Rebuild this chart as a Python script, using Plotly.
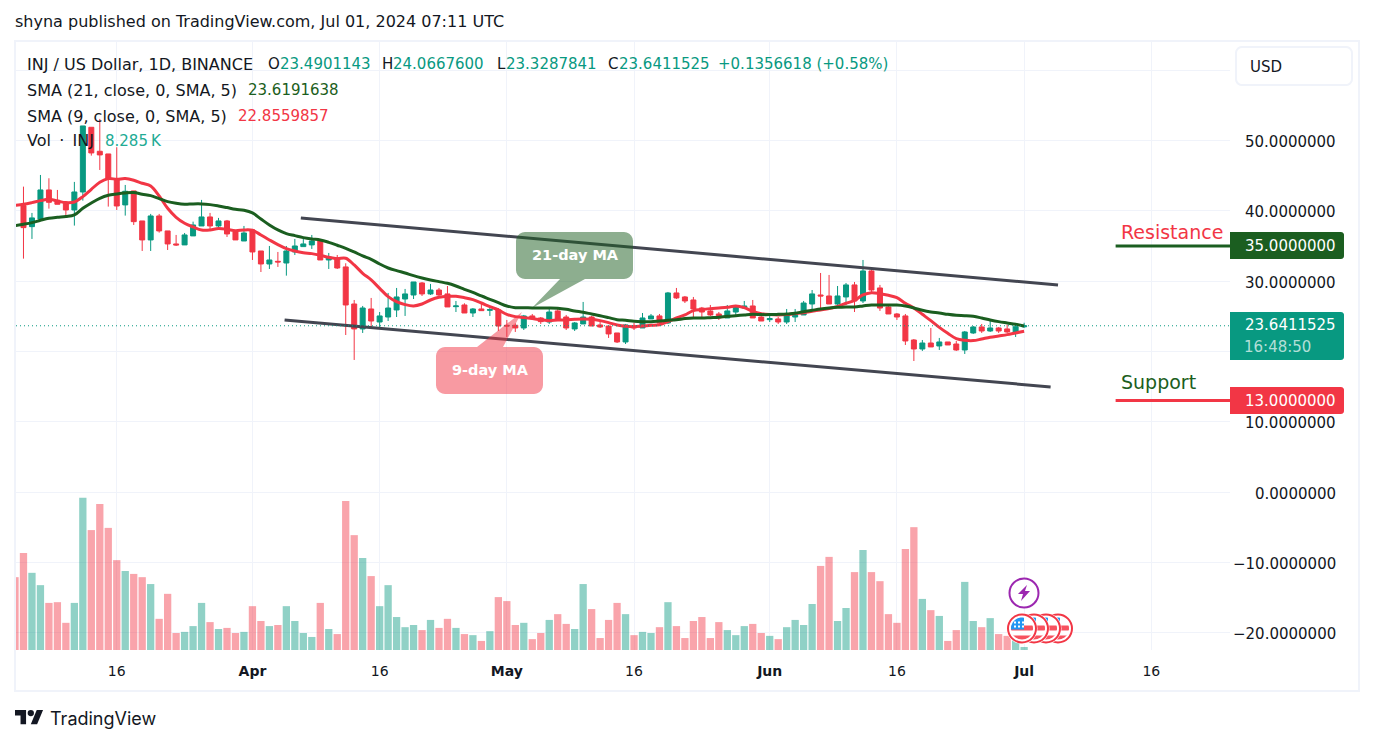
import math

import pandas as pd
import plotly.graph_objects as go

# daily data (Mar 4 candle is outside the visible area)
dates = pd.date_range("2024-03-04", "2024-07-01", freq="D")

opens = [None, 40.73, 37.74, 38.83, 42.96, 41.49, 41.06, 40.11, 42.67, 51.87, 48.46, 48.08, 44.48, 40.83, 42.82, 38.55, 35.85, 39.26, 37.13, 35.28, 35.14, 36.42, 37.84, 39.12, 37.84, 38.55, 36.98, 35.70,
         37.27, 34.28, 32.43, 32.81, 32.57, 34.14, 34.90, 35.14, 35.70, 33.00, 33.29, 32.01, 26.74, 23.19, 26.03, 24.18, 24.89, 25.89, 27.45, 28.02, 29.73, 28.17, 28.73, 28.17, 26.36, 26.60, 25.46, 26.03, 25.84, 25.89,
         23.71, 23.71, 23.33, 25.04, 24.75, 24.18, 25.75, 24.89, 23.19, 23.90, 24.89, 23.76, 23.61, 22.62, 21.34, 23.61, 23.33, 24.61, 25.04, 24.04, 28.31, 27.74, 27.31, 26.17, 25.75, 25.32, 24.75, 25.60, 26.17, 26.46, 24.89,
         24.51, 24.61, 24.18, 24.89, 25.18, 26.74, 28.02, 27.88, 26.74, 27.74, 29.45, 27.17, 31.44, 29.02, 26.32, 25.32, 25.04, 21.62, 20.34, 21.19, 20.77, 21.34, 21.05, 20.20, 22.62, 23.47, 22.90, 23.33, 23.19, 22.76,
         23.49]
highs = [None, 43.43, 39.69, 45.09, 44.62, 42.96, 41.06, 44.10, 52.06, 51.87, 53.06, 48.08, 49.03, 43.67, 42.82, 38.55, 39.55, 39.55, 37.13, 36.56, 36.84, 38.45, 41.54, 39.69, 38.98, 38.69, 36.98, 37.84,
         37.41, 34.28, 34.99, 34.14, 34.99, 35.99, 35.99, 36.56, 35.99, 34.00, 33.71, 32.53, 27.31, 26.46, 27.60, 25.60, 28.31, 29.02, 28.88, 29.87, 29.87, 29.59, 29.02, 29.30, 27.17, 26.84, 26.17, 26.84, 26.17, 26.17,
         24.47, 23.99, 25.18, 25.32, 24.89, 26.32, 26.17, 25.18, 24.18, 27.03, 25.04, 24.18, 23.61, 22.62, 23.90, 24.04, 25.46, 25.32, 25.32, 28.45, 29.02, 27.88, 27.74, 26.32, 26.60, 25.60, 26.60, 26.60, 27.17, 27.31, 25.32,
         25.32, 24.89, 26.03, 26.03, 27.17, 28.73, 31.15, 30.87, 29.30, 29.73, 29.87, 33.00, 31.86, 29.45, 26.74, 25.46, 25.32, 21.76, 21.62, 23.33, 21.91, 21.34, 21.48, 22.90, 23.61, 23.90, 24.47, 23.47, 23.76, 23.76,
         24.07]
lows = [None, 33.19, 35.99, 38.83, 40.30, 40.92, 38.98, 37.89, 41.44, 47.84, 45.80, 40.59, 40.11, 39.31, 37.98, 34.28, 34.28, 36.89, 34.42, 34.99, 35.14, 36.42, 37.84, 37.41, 37.27, 36.27, 35.85, 35.70,
        33.00, 31.29, 31.72, 32.01, 30.77, 33.71, 34.90, 34.57, 33.00, 31.72, 31.72, 22.33, 18.78, 22.62, 23.47, 23.33, 24.32, 24.89, 25.04, 27.45, 27.88, 28.02, 27.88, 26.32, 25.60, 25.46, 24.89, 25.75, 25.04, 22.90,
        22.05, 22.76, 23.04, 24.47, 23.90, 23.90, 24.47, 23.04, 22.90, 23.90, 23.61, 23.33, 21.91, 21.19, 21.05, 23.04, 23.33, 24.61, 23.90, 23.90, 27.45, 26.88, 24.89, 24.61, 25.04, 24.47, 24.75, 24.89, 26.03, 24.75, 24.32,
        24.18, 23.90, 23.90, 24.18, 25.18, 26.03, 25.89, 26.74, 26.60, 26.60, 25.60, 26.88, 28.45, 25.75, 25.32, 24.47, 20.91, 18.63, 20.06, 20.63, 20.20, 20.91, 20.06, 19.63, 22.48, 22.62, 22.76, 22.62, 22.62, 22.05,
        23.33]
closes = [None, 37.60, 38.98, 42.96, 41.20, 40.92, 40.11, 42.67, 52.06, 48.22, 47.94, 44.52, 40.68, 42.77, 38.45, 35.85, 39.26, 37.13, 35.28, 35.14, 36.56, 37.98, 39.12, 37.84, 38.55, 36.70, 35.85, 36.84,
          34.14, 32.43, 33.00, 32.72, 34.28, 34.99, 35.28, 35.70, 33.00, 33.43, 31.86, 26.60, 23.19, 26.17, 24.32, 25.04, 26.17, 27.74, 28.17, 29.87, 28.17, 28.73, 28.02, 26.32, 26.46, 25.46, 26.03, 25.79, 25.94, 23.61,
          23.61, 23.33, 25.04, 24.66, 24.23, 25.60, 24.61, 23.33, 24.04, 24.89, 23.61, 23.47, 22.48, 21.34, 23.76, 23.33, 24.75, 25.04, 24.04, 28.31, 27.60, 27.17, 26.03, 25.60, 25.18, 24.75, 25.75, 26.32, 26.46, 24.75, 24.32,
          24.66, 24.18, 25.04, 25.32, 26.88, 28.17, 27.88, 26.74, 27.88, 29.45, 27.17, 31.44, 28.73, 26.17, 25.32, 24.89, 21.48, 20.34, 21.19, 20.63, 21.34, 20.91, 20.20, 22.76, 23.47, 22.90, 23.33, 22.90, 22.76, 23.51,
          23.64]

sma_21 = [37.89, 38.08, 38.31, 38.64, 38.93, 39.07, 39.17, 39.40, 40.35, 41.11, 41.77, 42.20, 42.39, 42.53, 42.58, 42.34, 42.15, 41.73, 41.30, 41.06, 40.92, 40.97, 40.97, 40.87, 40.68, 40.45, 40.21, 40.07,
          39.69, 38.83, 37.98, 37.27, 36.75, 36.46, 36.18, 35.99, 35.85, 35.51, 35.09, 34.66, 34.14, 33.57, 33.10, 32.43, 31.86, 31.48, 31.15, 30.77, 30.44, 30.16, 29.92, 29.68, 29.30, 28.83, 28.40, 27.88, 27.41, 26.93,
          26.46, 26.22, 26.22, 26.17, 26.17, 26.17, 26.13, 25.98, 25.75, 25.56, 25.32, 25.08, 24.80, 24.51, 24.42, 24.28, 24.23, 24.23, 24.32, 24.42, 24.51, 24.66, 24.75, 24.75, 24.80, 24.85, 24.99, 25.08, 25.18, 25.27, 25.23,
          25.23, 25.27, 25.32, 25.41, 25.65, 25.84, 26.03, 26.17, 26.27, 26.32, 26.32, 26.46, 26.60, 26.60, 26.60, 26.60, 26.46, 26.17, 25.84, 25.60, 25.46, 25.27, 25.13, 25.08, 24.99, 24.75, 24.47, 24.23, 24.04, 23.85,
          23.62]
sma_9 = [40.78, 40.92, 41.16, 41.44, 41.63, 41.39, 41.16, 41.25, 42.01, 43.05, 44.05, 44.57, 44.48, 44.57, 44.33, 43.91, 43.53, 42.11, 40.35, 39.07, 38.22, 37.70, 37.27, 37.27, 37.46, 37.36, 37.17, 37.27,
         37.22, 36.56, 35.85, 35.18, 34.61, 34.28, 34.04, 33.90, 33.67, 33.38, 33.19, 33.24, 32.29, 31.11, 30.16, 28.97, 27.79, 27.07, 26.65, 26.46, 26.74, 27.31, 27.69, 27.83, 27.83, 27.64, 27.36, 26.88, 26.36, 25.89,
         25.27, 24.94, 24.80, 24.66, 24.51, 24.37, 24.47, 24.47, 24.56, 24.61, 24.56, 24.37, 24.09, 23.76, 23.57, 23.52, 23.61, 23.71, 23.80, 24.23, 24.75, 25.18, 25.79, 25.94, 26.08, 26.17, 26.27, 26.46, 26.22, 25.70, 25.37,
         25.23, 25.18, 25.23, 25.37, 25.51, 25.70, 25.89, 26.08, 26.41, 26.84, 27.26, 28.02, 28.35, 28.21, 27.98, 27.64, 26.84, 26.17, 25.27, 24.37, 23.42, 22.57, 21.81, 21.57, 21.53, 21.76, 22.00, 22.19, 22.38, 22.62,
         22.86]

# volume in thousands of INJ
volume_k = [201, 268, 213, 179, 130, 132, 75, 130, 420, 331, 403, 337, 248, 218, 210, 201, 182, 86, 155, 47, 50, 66, 130, 77, 58, 61, 47, 50,
            121, 80, 66, 69, 121, 80, 47, 36, 130, 58, 44, 411, 317, 254, 204, 121, 179, 91, 63, 69, 55, 83, 61, 86, 61, 44, 41, 25, 52, 146,
            135, 69, 75, 30, 47, 83, 99, 72, 58, 182, 113, 33, 83, 130, 99, 41, 50, 47, 63, 132, 66, 33, 80, 91, 33, 77, 55, 41, 66, 72, 47,
            39, 30, 63, 83, 69, 127, 232, 257, 80, 116, 215, 276, 215, 190, 99, 75, 279, 339, 141, 110, 94, 25, 55, 188, 80, 63, 88, 44, 39, 34,
            8.285]
volume_side = (
    "d d u u d d d u u d d d d u d d u d d d u u u d u d d u "
    "d d u d u u u u d u d d d u d u u u u u d u d d u d u d u d "
    "d d u d d u d d u u d d d d u d u u d u d d d d d d u u u d d "
    "u d u u u u d d u u d u d d d d d d u d u d d u u d u d d u "
    "u"
).split()

tick_dates = ["2024-03-16", "2024-04-01", "2024-04-16", "2024-05-01", "2024-05-16", "2024-06-01", "2024-06-16", "2024-07-01", "2024-07-16"]
tick_names = ["16", "<b>Apr</b>", "16", "<b>May</b>", "16", "<b>Jun</b>", "16", "<b>Jul</b>", "16"]
price_ticks = [60, 50, 40, 30, 20, 10, 0, -10, -20]
price_labels = ["", "50.0000000", "40.0000000", "30.0000000", "", "10.0000000", "0.0000000", "\u221210.0000000", "\u221220.0000000"]

upper_dates = ["2024-04-06 17:00", "2024-07-05 00:00"]
upper_prices = [38.98, 29.45]
lower_dates = ["2024-04-04 19:00", "2024-07-04 03:00"]
lower_prices = [24.47, 14.94]
resistance_dates = ["2024-07-11 19:00", "2024-07-26"]
resistance_prices = [35, 35]
support_dates = ["2024-07-11 19:00", "2024-07-26"]
support_prices = [13, 13]

GREEN = "#089981"
RED = "#f23645"
DARK_GREEN = "#1b5e20"
INK = "#131722"
FRAME = "#f0f3fa"
FONT = "DejaVu Sans"

# plot area in page pixels
LEFT, RIGHT, TOP, BOTTOM = 16, 1230, 42, 650


def px(x, y):
    return (x - LEFT) / (RIGHT - LEFT), (BOTTOM - y) / (BOTTOM - TOP)


def path_of(points):
    parts = []
    for k, (x, y) in enumerate(points):
        a, b = px(x, y)
        parts.append(f"{'M' if k == 0 else 'L'}{a:.5f},{b:.5f}")
    return " ".join(parts) + " Z"


def rounded(x0, y0, x1, y1, r, corners=(1, 1, 1, 1)):
    # polygon of a rounded box, corners are tl, tr, br, bl; six points each
    pts = []
    centers = [(x0, y0, 1, 1, 180), (x1, y0, -1, 1, 270), (x1, y1, -1, -1, 0), (x0, y1, 1, -1, 90)]
    for (cx, cy, dx, dy, start), on in zip(centers, corners):
        rr = r if on else 0
        for k in range(6):
            a = math.radians(start + 18 * k)
            pts.append((cx + dx * rr + rr * math.cos(a), cy + dy * rr + rr * math.sin(a)))
    return pts


def clip_rect(cx, cy, r, x0, x1, y0, y1):
    # rectangle pushed inside a circle, for the flag icons
    pts = []
    n = 12
    edge = [(x0 + (x1 - x0) * k / n, y0) for k in range(n)]
    edge += [(x1, y0 + (y1 - y0) * k / n) for k in range(n)]
    edge += [(x1 - (x1 - x0) * k / n, y1) for k in range(n)]
    edge += [(x0, y1 - (y1 - y0) * k / n) for k in range(n)]
    for x, y in edge:
        d = (x * x + y * y) ** 0.5
        if d > r:
            x, y = x * r / d, y * r / d
        pts.append((cx + x, cy + y))
    return pts


shapes = []
notes = []


def add_poly(points, fill, opacity=1.0, line=None, width=0):
    shapes.append(dict(type="path", xref="paper", yref="paper", path=path_of(points),
                       fillcolor=fill, opacity=opacity,
                       line=dict(color=line or fill, width=width)))


def add_circle(cx, cy, r, fill, line, width):
    x0, y0 = px(cx - r, cy + r)
    x1, y1 = px(cx + r, cy - r)
    shapes.append(dict(type="circle", xref="paper", yref="paper", x0=x0, y0=y0, x1=x1, y1=y1,
                       fillcolor=fill, line=dict(color=line, width=width)))


def add_text(x, y, text, color=INK, size=15, anchor="left", font=FONT):
    # left anchored text sits a pixel to the right of its box, all of it a pixel high
    a, b = px(x - 1 if anchor == "left" else x + 0.5, y + 1)
    notes.append(dict(xref="paper", yref="paper", x=a, y=b, text=text, showarrow=False,
                      xanchor=anchor, yanchor="middle", borderpad=0,
                      font=dict(color=color, size=size, family=font)))


fig = go.Figure()

fig.add_trace(go.Bar(
    x=dates, y=volume_k, yaxis="y2",
    marker=dict(color=[GREEN if s == "u" else RED for s in volume_side], opacity=0.45, line_width=0),
    width=0.86 * 86400000,
))

fig.add_trace(go.Candlestick(
    x=dates, open=opens, high=highs, low=lows, close=closes,
    increasing=dict(line=dict(color=GREEN, width=1), fillcolor=GREEN),
    decreasing=dict(line=dict(color=RED, width=1), fillcolor=RED),
    whiskerwidth=0,
))

fig.add_trace(go.Scatter(x=dates, y=sma_9, mode="lines", line=dict(color=RED, width=3, shape="spline")))
fig.add_trace(go.Scatter(x=dates, y=sma_21, mode="lines", line=dict(color=DARK_GREEN, width=3, shape="spline")))

for xs, ys, color in [
    (upper_dates, upper_prices, "#434651"),
    (lower_dates, lower_prices, "#434651"),
    (resistance_dates, resistance_prices, DARK_GREEN),
    (support_dates, support_prices, RED),
]:
    fig.add_trace(go.Scatter(x=xs, y=ys, mode="lines", line=dict(color=color, width=3)))

# last price dotted line
shapes.append(dict(type="line", xref="paper", yref="y", x0=0, x1=1, y0=closes[-1], y1=closes[-1],
                   line=dict(color=GREEN, width=1, dash="1px,3px")))

# outer frame and currency button
shapes.append(dict(type="rect", xref="paper", yref="paper",
                   x0=px(15, 0)[0], x1=px(1359, 0)[0], y0=px(0, 691)[1], y1=px(0, 41)[1],
                   line=dict(color=FRAME, width=2)))
add_poly(rounded(1236, 47, 1352, 85, 6), "white", line=FRAME, width=2)
add_text(1250, 66, "USD")

# callouts, the pointer is part of the box outline
box = rounded(516, 232, 633, 279, 9)
add_poly(box[:18] + [(585, 279), (532, 308), (560, 279)] + box[18:], DARK_GREEN, opacity=0.5)
box = rounded(436, 347, 543, 394, 9)
add_poly(box[:6] + [(477, 347), (522, 312), (503, 347)] + box[6:], RED, opacity=0.5)
add_text(574.5, 254, "<b>21-day MA</b>", "white", 14.5, "center")
add_text(489.5, 369, "<b>9-day MA</b>", "white", 14.5, "center")

# right hand price boxes
add_poly(rounded(1230, 232, 1344, 259, 3, (0, 1, 1, 0)), DARK_GREEN)
add_poly(rounded(1230, 312, 1344, 360, 3, (0, 1, 1, 0)), GREEN)
add_poly(rounded(1230, 387, 1344, 414, 3, (0, 1, 1, 0)), RED)
add_text(1336, 245, "35.0000000", "white", 15, "right")
add_text(1336, 324, "23.6411525", "white", 15, "right")
add_text(1244, 346, "16:48:50", "rgba(255,255,255,0.7)", 15, "left")
add_text(1336, 400, "13.0000000", "white", 15, "right")
add_text(1121, 231, "Resistance", RED, 19)
add_text(1121, 381, "Support", DARK_GREEN, 19)

# axis labels are annotations so that they stay right aligned
for value, label in zip(price_ticks, price_labels):
    if label:
        notes.append(dict(xref="paper", yref="y", x=px(1336.5, 0)[0], y=value, text=label, showarrow=False,
                          xanchor="right", yanchor="middle", borderpad=0, yshift=-1.5,
                          font=dict(color=INK, size=15, family=FONT)))

# legend rows
add_text(15, 21, "shyna published on TradingView.com, Jul 01, 2024 07:11 UTC", size=16)
add_text(27, 63, "INJ / US Dollar, 1D, BINANCE", size=16)
for x, head, body in [(268, "O", "23.4901143"), (382, "H", "24.0667600"), (497, "L", "23.3287841"), (608, "C", "23.6411525")]:
    add_text(x, 63, head)
    add_text(x + {"O": 12, "H": 11, "L": 9, "C": 11}[head], 63, body, GREEN)
add_text(718, 63, "+0.1356618 (+0.58%)", GREEN)
add_text(27, 89, "SMA (21, close, 0, SMA, 5)", size=16)
add_text(248, 89, "23.6191638", DARK_GREEN)
add_text(27, 115, "SMA (9, close, 0, SMA, 5)", size=16)
add_text(238, 115, "22.8559857", RED)
add_text(27, 140, "Vol\u2009 \u00b7 \u2009INJ", size=16)
add_text(105, 140, "8.285\u2009K", "#22ab94")

# footer logo and name
scale = 0.79
add_poly([(15 + scale * a, 706.8 + scale * b) for a, b in [(14, 22), (7, 22), (7, 11), (0, 11), (0, 4), (14, 4)]], INK)
add_poly([(15 + scale * a, 706.8 + scale * b) for a, b in [(28, 22), (20, 22), (27.5, 4), (35.5, 4)]], INK)
add_circle(15 + scale * 20, 706.8 + scale * 8, scale * 4, INK, INK, 0)
add_text(50, 717, "TradingView", size=18, font="Inter")

# event icons on the last bar
add_circle(1024, 593, 14.5, "white", "#9c27b0", 2)
add_poly([(1024 + a, 593 + b) for a, b in [(3, -8), (-6, 1), (-1, 1), (-3, 8), (6, -2), (1, -2)]], "#9c27b0")
for cx in [1058, 1046, 1034, 1022]:
    cy = 628.5
    add_circle(cx, cy, 15.5, "white", "white", 0)
    add_circle(cx, cy, 14, "white", RED, 2)
    add_poly(clip_rect(cx, cy, 11, -12, 12, -3, 2), "#f7525f")
    add_poly(clip_rect(cx, cy, 11, -12, 12, 7, 12), "#f7525f")
    add_poly(clip_rect(cx, cy, 11, -12, 2, -12, 1), "#2196f3")
for dx in [-8, -4, 0]:
    for dy in [-7, -3]:
        add_poly([(1022 + dx, 628.5 + dy), (1024 + dx, 628.5 + dy), (1024 + dx, 630.5 + dy), (1022 + dx, 630.5 + dy)], "white")

fig.update_layout(
    width=1374,
    height=744,
    autosize=False,
    showlegend=False,
    paper_bgcolor="white",
    plot_bgcolor="white",
    margin=dict(l=LEFT, r=1374 - RIGHT, t=TOP, b=744 - BOTTOM, pad=0),
    font=dict(family=FONT, color=INK, size=14),
    boxgap=0.16,
    bargap=0.14,
    shapes=shapes,
    annotations=notes,
    xaxis=dict(
        type="date",
        range=["2024-03-04 02:50", "2024-07-25 06:43"],
        rangeslider=dict(visible=False),
        tickmode="array",
        tickvals=tick_dates,
        ticktext=tick_names,
        tickfont=dict(size=14, color=INK),
        ticks="",
        showgrid=True,
        gridcolor=FRAME,
        gridwidth=1,
        showline=False,
        zeroline=False,
        ticklabelstandoff=11,
    ),
    yaxis=dict(
        range=[-22.47, 64.0],
        side="right",
        tickmode="array",
        tickvals=price_ticks,
        ticktext=price_labels,
        showticklabels=False,
        ticks="",
        showgrid=True,
        gridcolor=FRAME,
        gridwidth=1,
        zeroline=False,
        showline=False,
    ),
    yaxis2=dict(
        overlaying="y",
        range=[0, 1678],
        visible=False,
        showgrid=False,
        zeroline=False,
    ),
)

fig.write_html(
    "out.html",
    config={"displayModeBar": False},
    post_script="document.body.style.margin='0';document.body.style.overflow='hidden';",
)
